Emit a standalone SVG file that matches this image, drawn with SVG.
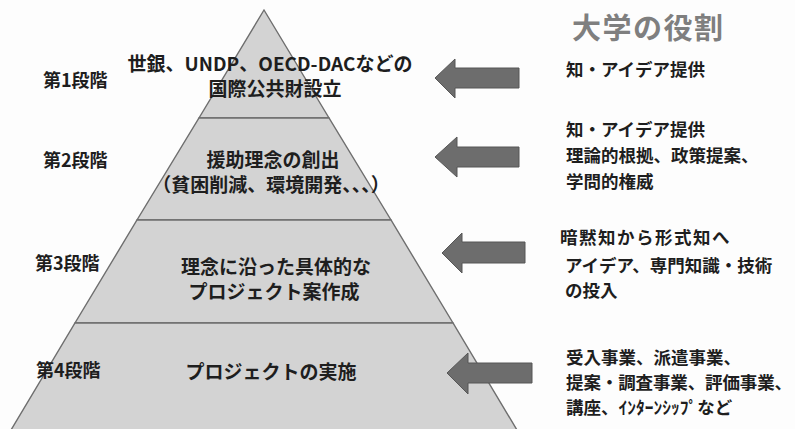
<svg xmlns="http://www.w3.org/2000/svg" width="795" height="429" viewBox="0 0 795 429">
<style>
.tier{fill:#d3d3d3;stroke:#6e6e6e;stroke-width:1.4}
.t{font-family:"Noto Sans CJK JP","Noto Sans",sans-serif;font-weight:700;fill:#1e1e1e}
.p{font-size:19px;text-anchor:middle}
.l{font-size:18px}
.r{font-size:17.5px}
.h{font-size:29px;fill:#7f7f7f;letter-spacing:1.5px}
.arr{fill:#6d6d6d;stroke:#575757;stroke-width:1}
</style>
<rect x="0" y="0" width="795" height="429" fill="#fdfdfd"/>
<g id="tier1">
<polygon class="tier" points="264,10 329,118 199,118"/>
<text class="t p" x="270" y="71">世銀、UNDP、OECD-DACなどの</text>
<text class="t p" x="275" y="96">国際公共財設立</text>
</g>
<g id="tier2">
<polygon class="tier" points="199,118 329,118 391,220 137,220"/>
<text class="t p" x="273" y="167">援助理念の創出</text>
<text class="t p" x="271" y="192">（貧困削減、環境開発、、、）</text>
</g>
<g id="tier3">
<polygon class="tier" points="137,220 391,220 453,323 75,323"/>
<text class="t p" x="276" y="274">理念に沿った具体的な</text>
<text class="t p" x="274" y="299">プロジェクト案作成</text>
</g>
<g id="tier4">
<polygon class="tier" points="75,323 453,323 517,430 11,430"/>
<text class="t p" x="271" y="379">プロジェクトの実施</text>
</g>
<g id="stage1"><text class="t l" x="43" y="87">第1段階</text></g>
<g id="stage2"><text class="t l" x="43" y="167">第2段階</text></g>
<g id="stage3"><text class="t l" x="35" y="270">第3段階</text></g>
<g id="stage4"><text class="t l" x="36" y="377">第4段階</text></g>
<g id="title"><text class="t h" x="572" y="39">大学の役割</text></g>
<g id="role1"><text class="t r" x="566" y="76">知・アイデア提供</text></g>
<g id="role2">
<text class="t r" x="566" y="136">知・アイデア提供</text>
<text class="t r" x="566" y="162">理論的根拠、政策提案、</text>
<text class="t r" x="566" y="188">学問的権威</text>
</g>
<g id="role3">
<text class="t r" x="560" y="244" letter-spacing="1.5">暗黙知から形式知へ</text>
<text class="t r" x="565" y="272">アイデア、専門知識・技術</text>
<text class="t r" x="565" y="297">の投入</text>
</g>
<g id="role4">
<text class="t r" x="566" y="364">受入事業、派遣事業、</text>
<text class="t r" x="566" y="389" textLength="226" lengthAdjust="spacing">提案・調査事業、評価事業、</text>
<text class="t r" x="566" y="414">講座、ｲﾝﾀｰﾝｼｯﾌﾟなど</text>
</g>
<g id="connectors">
<polygon class="arr" points="435,78 455,59 455,68 519,68 519,88 455,88 455,98"/>
<polygon class="arr" points="435,157 457,137 457,147 519,147 519,167 457,167 457,177"/>
<polygon class="arr" points="442,253 462,233 462,242 525,242 525,263 462,263 462,273"/>
<polygon class="arr" points="447,373 468,353 468,363 532,363 532,383 468,383 468,394"/>
</g>
</svg>
